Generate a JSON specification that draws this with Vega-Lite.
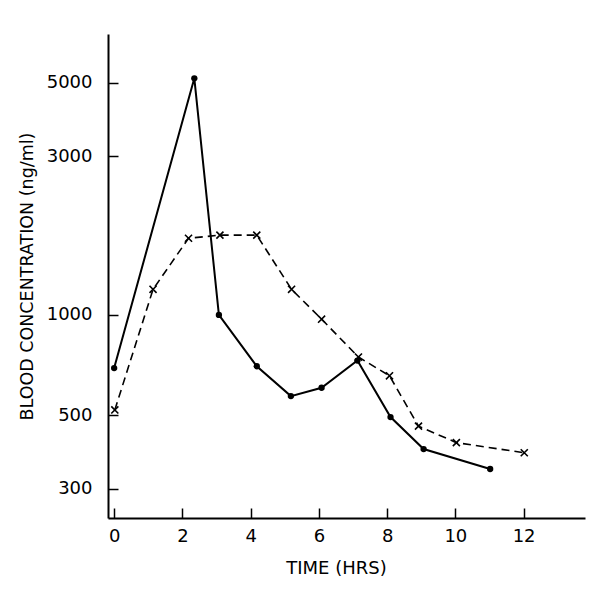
{
  "$schema": "https://vega.github.io/schema/vega-lite/v6.json",
  "autosize": "none",
  "width": 477,
  "height": 484,
  "padding": {"left": 108, "top": 34, "right": 19, "bottom": 88},
  "background": "white",
  "config": {
    "view": {"stroke": null},
    "font": "DejaVu Sans",
    "axis": {
      "domainColor": "black",
      "domainWidth": 2,
      "tickColor": "black",
      "tickWidth": 1.5,
      "tickSize": -10,
      "grid": false,
      "labelColor": "black",
      "labelFont": "DejaVu Sans",
      "labelFontSize": 18,
      "labelFontWeight": "normal",
      "titleColor": "black",
      "titleFont": "DejaVu Sans",
      "titleFontWeight": "normal"
    }
  },
  "data": {
    "values": [
      {"series": "solid", "time": 0.0, "conc": 692},
      {"series": "solid", "time": 2.35, "conc": 5150},
      {"series": "solid", "time": 3.07, "conc": 1000},
      {"series": "solid", "time": 4.18, "conc": 701},
      {"series": "solid", "time": 5.18, "conc": 570},
      {"series": "solid", "time": 6.08, "conc": 604},
      {"series": "solid", "time": 7.13, "conc": 729},
      {"series": "solid", "time": 8.1, "conc": 493},
      {"series": "solid", "time": 9.07, "conc": 395},
      {"series": "solid", "time": 11.02, "conc": 344},
      {"series": "dashed", "time": 0.02, "conc": 518},
      {"series": "dashed", "time": 1.14, "conc": 1194},
      {"series": "dashed", "time": 2.18, "conc": 1701},
      {"series": "dashed", "time": 3.1, "conc": 1738},
      {"series": "dashed", "time": 4.18, "conc": 1738},
      {"series": "dashed", "time": 5.2, "conc": 1194},
      {"series": "dashed", "time": 6.08, "conc": 971},
      {"series": "dashed", "time": 7.16, "conc": 747},
      {"series": "dashed", "time": 8.07, "conc": 656},
      {"series": "dashed", "time": 8.92, "conc": 463},
      {"series": "dashed", "time": 10.03, "conc": 413},
      {"series": "dashed", "time": 12.02, "conc": 385}
    ]
  },
  "encoding": {
    "x": {
      "field": "time",
      "type": "quantitative",
      "scale": {"domain": [-0.18, 13.8], "nice": false, "zero": false},
      "axis": {
        "values": [0, 2, 4, 6, 8, 10, 12],
        "title": "TIME (HRS)",
        "titleFontSize": 18,
        "labelPadding": 19,
        "titlePadding": 14,
        "titleX": 228
      }
    },
    "y": {
      "field": "conc",
      "type": "quantitative",
      "scale": {"type": "log", "domain": [245, 7000], "nice": false},
      "axis": {
        "values": [300, 500, 1000, 3000, 5000],
        "title": "BLOOD CONCENTRATION (ng/ml)",
        "titleFontSize": 17.5,
        "labelPadding": 26,
        "titlePadding": 10,
        "format": "d"
      }
    }
  },
  "layer": [
    {
      "transform": [{"filter": "datum.series === 'solid'"}],
      "mark": {"type": "line", "color": "black", "strokeWidth": 2},
      "encoding": {"order": {"field": "time"}}
    },
    {
      "transform": [{"filter": "datum.series === 'solid'"}],
      "mark": {"type": "point", "filled": true, "color": "black", "size": 40, "opacity": 1}
    },
    {
      "transform": [{"filter": "datum.series === 'dashed'"}],
      "mark": {"type": "line", "color": "black", "strokeWidth": 1.6, "strokeDash": [8, 5]},
      "encoding": {"order": {"field": "time"}}
    },
    {
      "transform": [{"filter": "datum.series === 'dashed'"}],
      "mark": {"type": "point", "filled": false, "color": "black", "strokeWidth": 1.6, "size": 50, "opacity": 1, "shape": "M-1,-1L1,1M1,-1L-1,1"}
    }
  ]
}
